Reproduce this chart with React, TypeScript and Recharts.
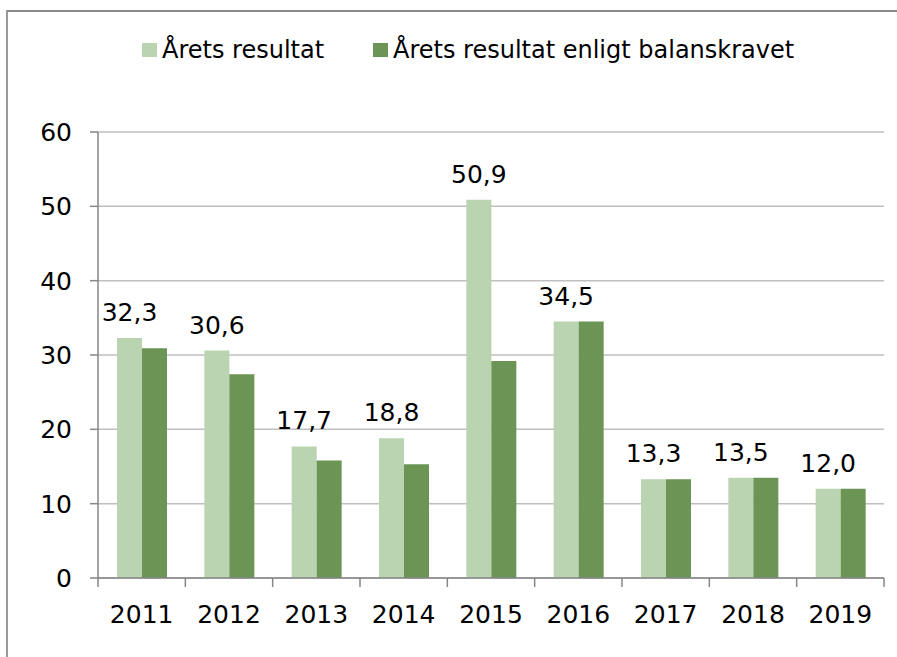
import React from 'react';
import { BarChart, Bar, XAxis, YAxis, CartesianGrid, LabelList } from 'recharts';

const years = ['2011', '2012', '2013', '2014', '2015', '2016', '2017', '2018', '2019'];
const aretsResultat = [32.3, 30.6, 17.7, 18.8, 50.9, 34.5, 13.3, 13.5, 12.0];
const balanskravet = [30.9, 27.4, 15.8, 15.3, 29.2, 34.5, 13.3, 13.5, 12.0];
const yTicks = [0, 10, 20, 30, 40, 50, 60];
const seriesNames = ['Årets resultat', 'Årets resultat enligt balanskravet'];

const LIGHT = '#bad3b0';
const DARK = '#6b9455';
const AXIS = '#868686';
const FONT = '"DejaVu Sans", Verdana, sans-serif';

const W = 897;
const H = 657;
const PLOT_LEFT = 98;
const PLOT_RIGHT = 884;
const BAND = (PLOT_RIGHT - PLOT_LEFT) / years.length;

const data = years.map((year, i) => ({
  year,
  a: aretsResultat[i],
  b: balanskravet[i],
}));

const fmt = (v: any) => Number(v).toFixed(1).replace('.', ',');

const XTick = (props: any) => {
  const { x, y, payload, index } = props;
  return (
    <g>
      <line x1={x - BAND / 2} x2={x - BAND / 2} y1={y} y2={y + 9} stroke={AXIS} strokeWidth={1.5} />
      {index === years.length - 1 && (
        <line x1={x + BAND / 2} x2={x + BAND / 2} y1={y} y2={y + 9} stroke={AXIS} strokeWidth={1.5} />
      )}
      <text x={x} y={y + 45} textAnchor="middle" fontSize={25} fontFamily={FONT} fill="#000">
        {payload.value}
      </text>
    </g>
  );
};

const legendColors = [LIGHT, DARK];
const legendPos = [
  { sq: 142, txt: 162 },
  { sq: 373, txt: 393 },
];

const App: React.FC = () => {
  return (
    <div style={{ position: 'absolute', left: 0, top: 0, width: W, height: H, overflow: 'hidden', background: '#fff' }}>
      {/* outer frame, only top and left edges are visible */}
      <div
        style={{
          position: 'absolute',
          left: 6,
          top: 10,
          width: W - 8,
          height: H - 10,
          borderTop: '2px solid #8a8a8a',
          borderLeft: '2px solid #9a9a9a',
        }}
      />
      <svg width={W} height={80} style={{ position: 'absolute', left: 0, top: 0 }}>
        {seriesNames.map((name, i) => (
          <g key={name}>
            <rect x={legendPos[i].sq} y={43} width={15} height={14} fill={legendColors[i]} />
            <text x={legendPos[i].txt} y={58} fontSize={24} fontFamily={FONT} fill="#000">
              {name}
            </text>
          </g>
        ))}
      </svg>
      <div style={{ position: 'absolute', left: 0, top: 0 }}>
        <BarChart
          width={W}
          height={H}
          data={data}
          margin={{ top: 132, right: W - PLOT_RIGHT, bottom: 0, left: 0 }}
          barGap={0}
          barSize={25}
        >
          <CartesianGrid vertical={false} stroke="#bfbfbf" strokeWidth={1.5} />
          <XAxis
            dataKey="year"
            height={79}
            axisLine={{ stroke: AXIS, strokeWidth: 1.5 }}
            tickLine={false}
            tickSize={0}
            tickMargin={0}
            tick={<XTick />}
            interval={0}
          />
          <YAxis
            width={PLOT_LEFT}
            domain={[0, 60]}
            ticks={yTicks}
            interval={0}
            axisLine={{ stroke: AXIS, strokeWidth: 1.5 }}
            tickLine={{ stroke: AXIS, strokeWidth: 1.5 }}
            tickSize={8}
            tickMargin={18}
            tick={{ fontSize: 25, fontFamily: FONT, fill: '#000' }}
          />
          <Bar dataKey="a" name={seriesNames[0]} fill={LIGHT} isAnimationActive={false}>
            <LabelList
              dataKey="a"
              position="top"
              offset={17}
              formatter={fmt}
              style={{ fontSize: 25, fontFamily: FONT, fill: '#000' }}
            />
          </Bar>
          <Bar dataKey="b" name={seriesNames[1]} fill={DARK} isAnimationActive={false} />
        </BarChart>
      </div>
    </div>
  );
};

export default App;
